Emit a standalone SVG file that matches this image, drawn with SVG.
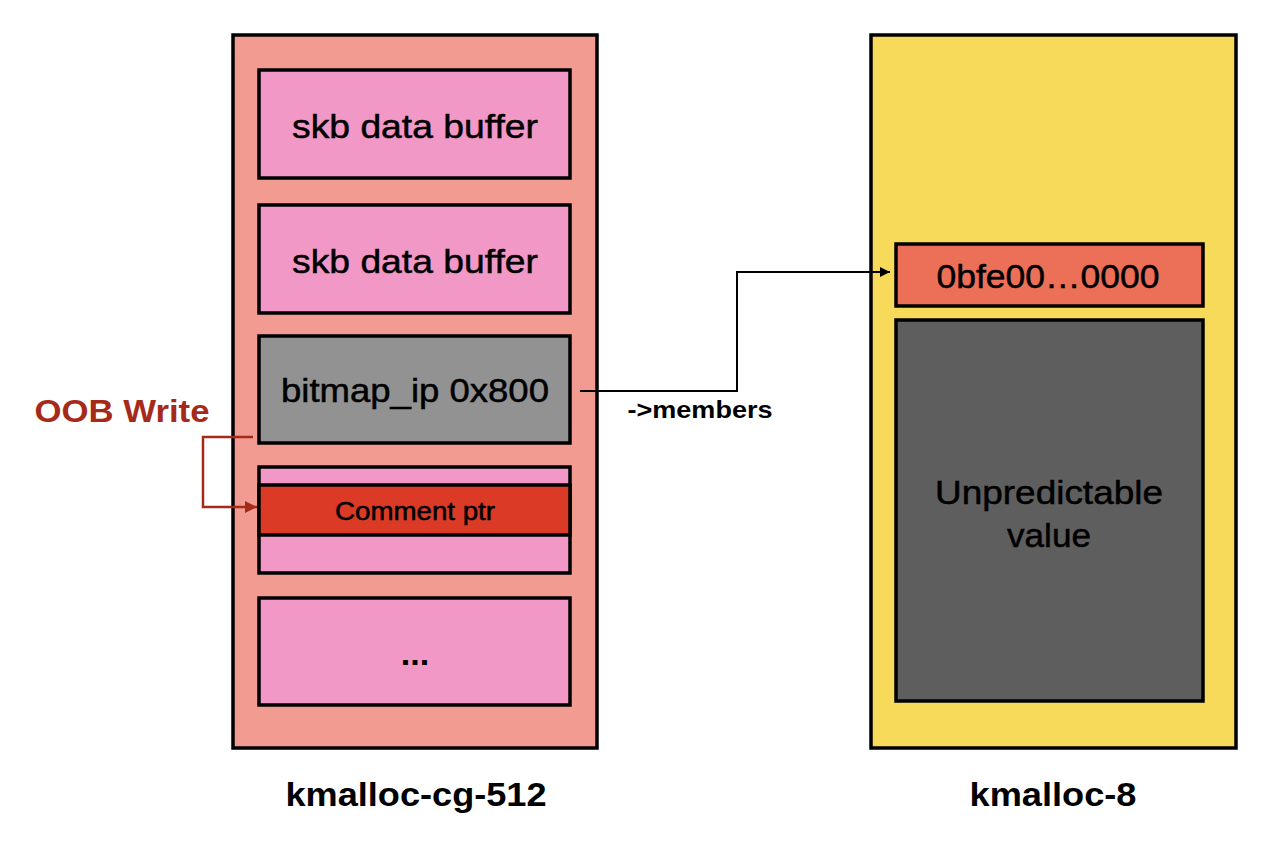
<svg xmlns="http://www.w3.org/2000/svg" width="1282" height="844" viewBox="0 0 1282 844">
<style>
.box{stroke:#000;stroke-width:3.5}
.t{font-family:"Liberation Sans",Arial,Helvetica,sans-serif;fill:#000;text-anchor:middle}
.r{stroke:#000;stroke-width:0.5}
.b{font-weight:bold}
</style>
<defs>
<marker id="ah" viewBox="0 0 10 10" refX="10" refY="5" markerWidth="10" markerHeight="10" markerUnits="userSpaceOnUse" orient="auto">
<path d="M0,0 L10,5 L0,10 z" fill="#000"/>
</marker>
<marker id="ahr" viewBox="0 0 10 10" refX="10" refY="5" markerWidth="12" markerHeight="12" markerUnits="userSpaceOnUse" orient="auto">
<path d="M0,0 L10,5 L0,10 z" fill="#A52A1A"/>
</marker>
</defs>
<rect width="1282" height="844" fill="#fff"/>
<g id="kmalloc-cg-512">
<rect class="box" x="233" y="35" width="364" height="713" fill="#F19B91"/>
<text class="t b" x="416" y="806" font-size="34" textLength="261" lengthAdjust="spacingAndGlyphs">kmalloc-cg-512</text>
</g>
<g id="kmalloc-8">
<rect class="box" x="871" y="35" width="365" height="713" fill="#F8DA5B"/>
<text class="t b" x="1053" y="806" font-size="34" textLength="167" lengthAdjust="spacingAndGlyphs">kmalloc-8</text>
</g>
<g id="skb1">
<rect class="box" x="259" y="70" width="311" height="108" fill="#F298C6"/>
<text class="t r" x="415" y="138" font-size="34" textLength="246" lengthAdjust="spacingAndGlyphs">skb data buffer</text>
</g>
<g id="skb2">
<rect class="box" x="259" y="205" width="311" height="108" fill="#F298C6"/>
<text class="t r" x="415" y="273" font-size="34" textLength="246" lengthAdjust="spacingAndGlyphs">skb data buffer</text>
</g>
<g id="bitmap">
<rect class="box" x="259" y="336" width="311" height="107" fill="#929292"/>
<text class="t r" x="415" y="402" font-size="34" textLength="268" lengthAdjust="spacingAndGlyphs">bitmap_ip 0x800</text>
</g>
<g id="comment-slot">
<rect class="box" x="259" y="467" width="311" height="106" fill="#F298C6"/>
<rect class="box" x="259" y="485" width="311" height="50" fill="#DA3A26"/>
<text class="t r" x="415" y="520" font-size="25" textLength="160" lengthAdjust="spacingAndGlyphs">Comment ptr</text>
</g>
<g id="more">
<rect class="box" x="259" y="598" width="311" height="107" fill="#F298C6"/>
<text class="t b" x="415" y="665" font-size="34">...</text>
</g>
<g id="value-head">
<rect class="box" x="896" y="244" width="307" height="62" fill="#EC6F58"/>
<text class="t r" x="1048" y="288" font-size="34" textLength="223" lengthAdjust="spacingAndGlyphs">0bfe00…0000</text>
</g>
<g id="unpredictable">
<rect class="box" x="896" y="320" width="307" height="381" fill="#5E5E5E"/>
<text class="t r" x="1049" y="504" font-size="34" textLength="228" lengthAdjust="spacingAndGlyphs">Unpredictable</text>
<text class="t r" x="1049" y="547" font-size="34" textLength="84" lengthAdjust="spacingAndGlyphs">value</text>
</g>
<g id="oob-label">
<text class="t b" x="122" y="422" font-size="32" style="fill:#A52A1A" textLength="175" lengthAdjust="spacingAndGlyphs">OOB Write</text>
</g>
<g id="connectors" fill="none">
<path d="M580,391 H737 V272 H890" stroke="#000" stroke-width="2" marker-end="url(#ah)"/>
<text class="t b" x="700" y="418" font-size="24" textLength="145" lengthAdjust="spacingAndGlyphs">-&gt;members</text>
<path d="M253,437 H203 V507 H257" stroke="#A52A1A" stroke-width="2.5" marker-end="url(#ahr)"/>
</g>
</svg>
